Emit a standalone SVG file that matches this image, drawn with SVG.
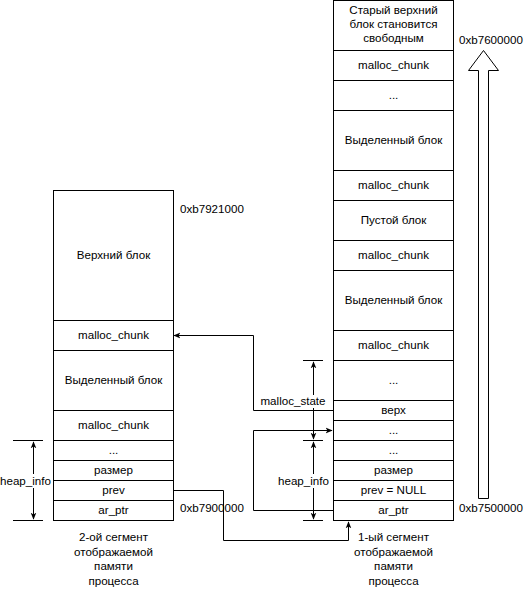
<svg xmlns="http://www.w3.org/2000/svg" width="527" height="590" viewBox="0 0 527 590">
<style>
rect.c{fill:#fff;stroke:#000;stroke-width:1}
text{font-family:"Liberation Sans",Arial,sans-serif;font-size:11.6px;fill:#000;text-anchor:middle}
text.l{text-anchor:start}
.ln{fill:none;stroke:#000;stroke-width:1}
.bg{fill:#fff}
</style>
<defs>
<marker id="ah" viewBox="0 0 10 10" refX="9" refY="5" markerWidth="7" markerHeight="7" orient="auto-start-reverse" markerUnits="userSpaceOnUse">
<path d="M0,1 L10,5 L0,9 L2.5,5 Z" fill="#000"/>
</marker>
</defs>
<rect width="527" height="590" fill="#fff"/>

<g id="connectors">
<polyline class="ln" points="333.5,410.5 253.5,410.5 253.5,335.5 174,335.5" marker-end="url(#ah)"/>
<polyline class="ln" points="333.5,510.5 253.5,510.5 253.5,430.5 332,430.5" marker-end="url(#ah)"/>
<polyline class="ln" points="173.5,490.5 223.5,490.5 223.5,540.5 348.5,540.5 348.5,522" marker-end="url(#ah)"/>
</g>

<g id="left-column">
<rect class="c" x="53.5" y="190.5" width="120" height="130"/><text x="113.5" y="259">Верхний блок</text>
<rect class="c" x="53.5" y="320.5" width="120" height="30"/><text x="113.5" y="339">malloc_chunk</text>
<rect class="c" x="53.5" y="350.5" width="120" height="60"/><text x="113.5" y="384">Выделенный блок</text>
<rect class="c" x="53.5" y="410.5" width="120" height="30"/><text x="113.5" y="429">malloc_chunk</text>
<rect class="c" x="53.5" y="440.5" width="120" height="20"/><text x="113.5" y="454">...</text>
<rect class="c" x="53.5" y="460.5" width="120" height="20"/><text x="113.5" y="474">размер</text>
<rect class="c" x="53.5" y="480.5" width="120" height="20"/><text x="113.5" y="494">prev</text>
<rect class="c" x="53.5" y="500.5" width="120" height="20"/><text x="113.5" y="514">ar_ptr</text>
</g>

<g id="right-column">
<rect class="c" x="333.5" y="0.5" width="120" height="50"/>
<text x="393.5" y="14">Старый верхний</text>
<text x="393.5" y="28">блок становится</text>
<text x="393.5" y="42">свободным</text>
<rect class="c" x="333.5" y="50.5" width="120" height="30"/><text x="393.5" y="69">malloc_chunk</text>
<rect class="c" x="333.5" y="80.5" width="120" height="30"/><text x="393.5" y="99">...</text>
<rect class="c" x="333.5" y="110.5" width="120" height="60"/><text x="393.5" y="144">Выделенный блок</text>
<rect class="c" x="333.5" y="170.5" width="120" height="30"/><text x="393.5" y="189">malloc_chunk</text>
<rect class="c" x="333.5" y="200.5" width="120" height="40"/><text x="393.5" y="224">Пустой блок</text>
<rect class="c" x="333.5" y="240.5" width="120" height="30"/><text x="393.5" y="259">malloc_chunk</text>
<rect class="c" x="333.5" y="270.5" width="120" height="60"/><text x="393.5" y="304">Выделенный блок</text>
<rect class="c" x="333.5" y="330.5" width="120" height="30"/><text x="393.5" y="349">malloc_chunk</text>
<rect class="c" x="333.5" y="360.5" width="120" height="40"/><text x="393.5" y="384">...</text>
<rect class="c" x="333.5" y="400.5" width="120" height="20"/><text x="393.5" y="414">верх</text>
<rect class="c" x="333.5" y="420.5" width="120" height="20"/><text x="393.5" y="434">...</text>
<rect class="c" x="333.5" y="440.5" width="120" height="20"/><text x="393.5" y="454">...</text>
<rect class="c" x="333.5" y="460.5" width="120" height="20"/><text x="393.5" y="474">размер</text>
<rect class="c" x="333.5" y="480.5" width="120" height="20"/><text x="393.5" y="494">prev = NULL</text>
<rect class="c" x="333.5" y="500.5" width="120" height="20"/><text x="393.5" y="514">ar_ptr</text>
</g>

<g id="dim-heap-info-left">
<line class="ln" x1="13" y1="440.5" x2="43" y2="440.5"/>
<line class="ln" x1="13" y1="520.5" x2="43" y2="520.5"/>
<line class="ln" x1="33.5" y1="442" x2="33.5" y2="519" marker-start="url(#ah)" marker-end="url(#ah)"/>
<rect class="bg" x="1" y="474" width="48" height="14"/>
<text x="25.5" y="485">heap_info</text>
</g>

<g id="dim-malloc-state">
<line class="ln" x1="303" y1="360.5" x2="323" y2="360.5"/>
<line class="ln" x1="303" y1="440.5" x2="323" y2="440.5"/>
<line class="ln" x1="313.5" y1="362" x2="313.5" y2="439" marker-start="url(#ah)" marker-end="url(#ah)"/>
<rect class="bg" x="261" y="395" width="64" height="13"/>
<text x="293" y="405">malloc_state</text>
</g>

<g id="dim-heap-info-right">
<line class="ln" x1="303" y1="520.5" x2="323" y2="520.5"/>
<line class="ln" x1="313.5" y1="442" x2="313.5" y2="519" marker-start="url(#ah)" marker-end="url(#ah)"/>
<rect class="bg" x="279" y="474" width="48" height="14"/>
<text x="303.5" y="485">heap_info</text>
</g>

<g id="address-arrow">
<polygon points="483.5,50.5 498.5,70.5 488.5,70.5 488.5,498.5 478.5,498.5 478.5,70.5 468.5,70.5" fill="#fff" stroke="#000" stroke-width="1"/>
</g>

<g id="labels">
<text class="l" x="180" y="213">0xb7921000</text>
<text class="l" x="180" y="512">0xb7900000</text>
<text class="l" x="459" y="44">0xb7600000</text>
<text class="l" x="459" y="512">0xb7500000</text>
<text x="113.5" y="541">2-ой сегмент</text>
<text x="113.5" y="555.5">отображаемой</text>
<text x="113.5" y="570">памяти</text>
<text x="113.5" y="584.5">процесса</text>
<text x="393.5" y="541">1-ый сегмент</text>
<text x="393.5" y="555.5">отображаемой</text>
<text x="393.5" y="570">памяти</text>
<text x="393.5" y="584.5">процесса</text>
</g>
</svg>
